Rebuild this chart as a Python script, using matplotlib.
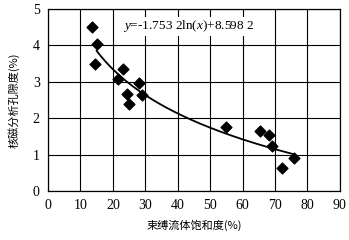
import numpy as np
import matplotlib
matplotlib.use("Agg")
import matplotlib.pyplot as plt

matplotlib.rcParams["mathtext.fontset"] = "custom"
matplotlib.rcParams["mathtext.it"] = "Liberation Serif:italic"
matplotlib.rcParams["mathtext.rm"] = "Liberation Serif"

# Data
bound_fluid = [13.6, 15.2, 14.5, 23.0, 21.5, 28.0, 24.5, 29.0, 25.0,
               55.0, 65.4, 68.2, 69.0, 75.8, 72.2]
nmr_porosity = [4.50, 4.04, 3.49, 3.35, 3.08, 2.97, 2.67, 2.64, 2.39,
                1.76, 1.65, 1.53, 1.24, 0.90, 0.64]
fit_a = -1.7532
fit_b = 8.5982
fit_range = [15.0, 76.0]
x_ticks = [0, 10, 20, 30, 40, 50, 60, 70, 80, 90]
y_ticks = [0, 1, 2, 3, 4, 5]

fig = plt.figure(figsize=(3.49, 2.40), dpi=100)
ax = fig.add_axes([0.1375, 0.204, 0.8365, 0.7585])

ax.grid(True, color="black", linewidth=0.8)
ax.set_axisbelow(True)
ax.scatter(bound_fluid, nmr_porosity, marker="D", s=30, color="black", zorder=3)
xf = np.linspace(fit_range[0], fit_range[1], 200)
ax.plot(xf, fit_a * np.log(xf) + fit_b, color="black", linewidth=1.3, zorder=2)

ax.set_xlim(0, 90)
ax.set_ylim(0, 5)
ax.set_xticks(x_ticks)
ax.set_yticks(y_ticks)
ax.tick_params(length=0, pad=6, labelsize=10)
for lbl in ax.get_xticklabels() + ax.get_yticklabels():
    lbl.set_family("Liberation Serif")
for s in ax.spines.values():
    s.set_color("black")
    s.set_linewidth(0.9)

ax.text(23, 4.52, r"$y$=-1.753 2ln($x$)+8.598 2", fontsize=9.5,
        family="Liberation Serif", va="center", ha="left",
        bbox=dict(facecolor="white", edgecolor="none", pad=1))

ax.set_xlabel("束缚流体饱和度(%)", family=["Noto Sans CJK SC", "DejaVu Sans"], fontsize=8, labelpad=5)
ax.set_ylabel("核磁分析孔隙度(%)", family=["Noto Sans CJK SC", "DejaVu Sans"], fontsize=8, labelpad=9)

fig.savefig("out.png", dpi=100)
